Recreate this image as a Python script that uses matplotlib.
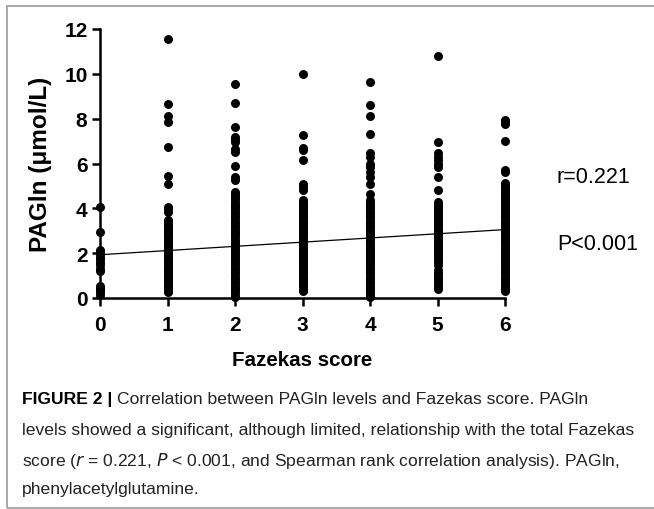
import matplotlib
matplotlib.use("Agg")
import matplotlib.pyplot as plt
from matplotlib.patches import Rectangle

# Fazekas score groups and PAGln values (umol/L)
scores = [0, 1, 2, 3, 4, 5, 6]
pagln_0 = [4.05, 2.95, 2.15, 2.05, 1.95, 1.85, 1.75, 1.6, 1.45, 1.3, 1.2,
           0.55, 0.45, 0.35, 0.25, 0.15]
pagln_1 = [11.55, 8.65, 8.1, 7.85, 6.75, 5.45, 5.1, 4.05, 3.95, 3.85,
           3.5, 3.4, 3.3, 3.2, 3.1, 3.0, 2.9, 2.8, 2.7, 2.6, 2.5, 2.4, 2.3,
           2.2, 2.1, 2.0, 1.9, 1.8, 1.7, 1.6, 1.5, 1.4, 1.3, 1.2, 1.1, 1.0,
           0.9, 0.8, 0.7, 0.6, 0.5, 0.4, 0.3, 0.25]
pagln_2 = [9.55, 8.7, 7.65, 7.2, 7.1, 6.95, 6.65, 6.5, 5.9, 5.4, 5.25,
           4.75, 4.65, 4.55, 4.45, 4.35, 4.25, 4.15, 4.05, 3.95, 3.85, 3.75,
           3.65, 3.55, 3.45, 3.35, 3.25, 3.15, 3.05, 2.95, 2.85, 2.75, 2.65,
           2.55, 2.45, 2.35, 2.25, 2.15, 2.05, 1.95, 1.85, 1.75, 1.65, 1.55,
           1.45, 1.35, 1.25, 1.15, 1.05, 0.95, 0.85, 0.75, 0.65, 0.55, 0.45,
           0.35, 0.25, 0.15, 0.05]
pagln_3 = [10.0, 7.25, 6.7, 6.6, 6.15, 5.1, 4.95, 4.8,
           4.35, 4.25, 4.15, 4.05, 3.95, 3.85, 3.75, 3.65, 3.55, 3.45, 3.35,
           3.25, 3.15, 3.05, 2.95, 2.85, 2.75, 2.65, 2.55, 2.45, 2.35, 2.25,
           2.15, 2.05, 1.95, 1.85, 1.75, 1.65, 1.55, 1.45, 1.35, 1.25, 1.15,
           1.05, 0.95, 0.85, 0.75, 0.65, 0.55, 0.45, 0.35, 0.3]
pagln_4 = [9.65, 8.6, 8.1, 7.3, 6.45, 6.3, 6.0, 5.85, 5.6, 5.4, 5.1, 4.65,
           4.35, 4.25, 4.15, 4.05, 3.95, 3.85, 3.75, 3.65, 3.55, 3.45, 3.35,
           3.25, 3.15, 3.05, 2.95, 2.85, 2.75, 2.65, 2.55, 2.45, 2.35, 2.25,
           2.15, 2.05, 1.95, 1.85, 1.75, 1.65, 1.55, 1.45, 1.35, 1.25, 1.15,
           1.05, 0.95, 0.85, 0.75, 0.65, 0.55, 0.45, 0.35, 0.25, 0.15, 0.05]
pagln_5 = [10.8, 6.95, 6.45, 6.3, 6.15, 6.0, 5.85, 5.4, 4.8,
           4.3, 4.2, 4.1, 4.0, 3.9, 3.8, 3.7, 3.6, 3.5, 3.4, 3.3, 3.2, 3.1,
           3.0, 2.9, 2.8, 2.7, 2.6, 2.5, 2.4, 2.3, 2.2, 2.1, 2.0, 1.9, 1.8,
           1.7, 1.6, 1.45, 1.25, 1.15, 1.05, 0.95, 0.85, 0.75, 0.65, 0.55, 0.4]
pagln_6 = [7.95, 7.85, 7.75, 7.0, 5.7, 5.6,
           5.15, 5.05, 4.95, 4.85, 4.75, 4.65, 4.55, 4.45, 4.35, 4.25, 4.15,
           4.05, 3.95, 3.85, 3.75, 3.65, 3.55, 3.45, 3.35, 3.25, 3.15, 3.05,
           2.95, 2.85, 2.75, 2.65, 2.55, 2.45, 2.35, 2.25, 2.15, 2.05, 1.95,
           1.85, 1.75, 1.65, 1.55, 1.45, 1.35, 1.25, 1.15, 1.05, 0.95, 0.85,
           0.75, 0.65, 0.55, 0.45, 0.35, 0.3]
groups = [pagln_0, pagln_1, pagln_2, pagln_3, pagln_4, pagln_5, pagln_6]

# linear fit drawn in the figure
fit_intercept = 1.93
fit_slope = 0.187

y_ticks = [0, 2, 4, 6, 8, 10, 12]

W, H = 654, 510
fig = plt.figure(figsize=(W / 100, H / 100), dpi=100)

# figure frame (open on the right, like the cropped page)
fig.add_artist(Rectangle((7 / W, 1.5 / H), (W + 40) / W, (H - 8) / H,
                         transform=fig.transFigure, fill=False,
                         edgecolor="#9a9a9a", linewidth=1.2))

ax = fig.add_axes([100 / W, 1 - 299 / H, 405 / W, 269 / H])
for x, vals in zip(scores, groups):
    ax.scatter([x] * len(vals), vals, s=42, color="black", zorder=3,
               clip_on=False, linewidths=0)
ax.plot([scores[0], scores[-1]],
        [fit_intercept + fit_slope * scores[0], fit_intercept + fit_slope * scores[-1]],
        color="black", linewidth=0.9, zorder=4)

ax.set_xlim(0, 6)
ax.set_ylim(0, 12)
ax.set_xticks(scores)
ax.set_yticks(y_ticks)
for s in ("top", "right"):
    ax.spines[s].set_visible(False)
for s in ("left", "bottom"):
    ax.spines[s].set_linewidth(1.8)
ax.tick_params(width=1.8, length=6, labelsize=15)
ax.tick_params(axis="x", pad=6)
ax.tick_params(axis="y", pad=3)
for lab in ax.get_xticklabels() + ax.get_yticklabels():
    lab.set_fontweight("bold")
    lab.set_family(["Liberation Sans Narrow", "Liberation Sans"])
ax.set_xlabel("Fazekas score", fontsize=14.8, fontweight="bold",
              family="Liberation Sans", labelpad=12)
ax.set_ylabel("PAGln (μmol/L)", fontsize=17.5, fontweight="bold",
              family="Liberation Sans", labelpad=9)

fig.text(557 / W, 1 - 178 / H, "r=0.221", fontsize=15.5, family="Liberation Sans",
         va="center", ha="left")
fig.text(557 / W, 1 - 245 / H, "P<0.001", fontsize=15.5, family="Liberation Sans",
         va="center", ha="left")

# caption
cap_x = 22 / W
cap_font = "Liberation Sans"
cap_size = 12.6
t = fig.text(cap_x, 1 - 400 / H, "FIGURE 2 | ", fontsize=cap_size, fontweight="bold",
             family=cap_font, va="center", ha="left")
fig.canvas.draw()
bb = t.get_window_extent()
fig.text(bb.x1 / W, 1 - 400 / H,
         "Correlation between PAGln levels and Fazekas score. PAGln",
         fontsize=cap_size, family=cap_font, va="center", ha="left", color="#222222")
fig.text(cap_x, 1 - 431 / H,
         "levels showed a significant, although limited, relationship with the total Fazekas",
         fontsize=cap_size, family=cap_font, va="center", ha="left", color="#222222")
fig.text(cap_x, 1 - 461 / H,
         r"score ($r$ = 0.221, $P$ < 0.001, and Spearman rank correlation analysis). PAGln,",
         fontsize=cap_size, family=cap_font, va="center", ha="left", color="#222222")
fig.text(cap_x, 1 - 490 / H, "phenylacetylglutamine.",
         fontsize=cap_size, family=cap_font, va="center", ha="left", color="#222222")

fig.savefig("out.png", dpi=100)
plt.close(fig)
